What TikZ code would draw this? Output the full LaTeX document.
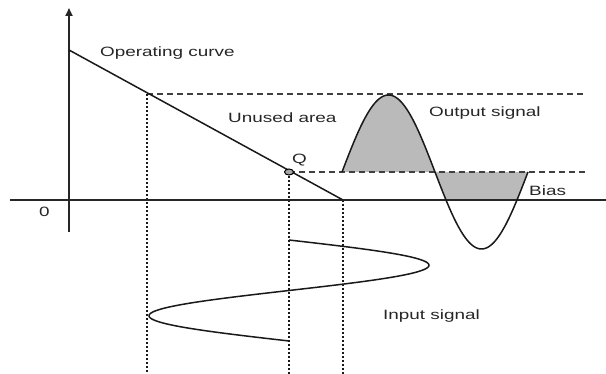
\documentclass[tikz,border=0pt]{standalone}
\usepackage{fontspec}
\setmainfont{Liberation Sans}
\usetikzlibrary{arrows.meta}
\begin{document}
\begin{tikzpicture}[x=1pt,y=-1pt,
  lbl/.style={anchor=west,inner sep=0pt,font=\fontsize{13.5}{15}\selectfont,text=black!85},
  axisline/.style={line width=1.8pt,black!85},
  curveline/.style={line width=1.5pt,black!90},
  dashline/.style={line width=1.3pt,black!75,dash pattern=on 6pt off 4pt},
  dotline/.style={line width=2.4pt,black!90,dash pattern=on 2pt off 2pt},
  shade/.style={fill=black!27}]
\useasboundingbox (0,0) rectangle (606,374);
% key points
\coordinate (ytop) at (69,8);
\coordinate (ybot) at (69,232);
\coordinate (xleft) at (10,200);
\coordinate (xright) at (606,200);
\coordinate (opstart) at (69,50);
\coordinate (opend) at (343,200);
\coordinate (Q) at (289,172);
\coordinate (topdash) at (147,94);
\coordinate (topdashend) at (585,94);
\coordinate (qdashend) at (585,172);
% shaded areas of output signal
\fill[shade] (342,172) -- plot[domain=342:435,samples=60,smooth] (\x,{172-77*sin((\x-342)*1.93548)}) -- cycle;
\begin{scope}
\clip (435,172) rectangle (528,200);
\fill[shade] (435,172) -- plot[domain=435:528,samples=60,smooth] (\x,{172-77*sin((\x-342)*1.93548)}) -- cycle;
\end{scope}
% dashed levels
\draw[dashline] (topdash) -- (topdashend);
\draw[dashline] (Q) -- (qdashend);
% dotted projections
\draw[dotline] (topdash) -- (147,374);
\draw[dotline] (Q) -- (289,374);
\draw[dotline] (opend) -- (343,374);
% axes
\draw[axisline] (xleft) -- (xright);
\draw[axisline,-{Triangle[length=8pt,width=7pt]}] (ybot) -- (ytop);
% operating curve
\draw[curveline] (opstart) -- (opend);
% output signal
\draw[curveline] plot[domain=342:528,samples=120,smooth] (\x,{172-77*sin((\x-342)*1.93548)});
% input signal
\draw[curveline] plot[domain=240:341,samples=120,smooth] ({289+140*sin((\x-240)*3.56436)},\x);
% Q point
\draw[line width=1pt,fill=black!35] (Q) ellipse (4.5 and 3);
% labels
\node[lbl] (lop) at (100,53) {\scalebox{1.4}[1]{Operating curve}};
\node[lbl] (lun) at (228,118) {\scalebox{1.4}[1]{Unused area}};
\node[lbl] (lout) at (429,113) {\scalebox{1.4}[1]{Output signal}};
\node[lbl] (lbias) at (529,191) {\scalebox{1.4}[1]{Bias}};
\node[lbl] (lin) at (383,316) {\scalebox{1.4}[1]{Input signal}};
\node[lbl] (lq) at (292,160) {\scalebox{1.4}[1]{Q}};
\node[lbl] (lo) at (39,212) {\scalebox{1.4}[1]{0}};
\end{tikzpicture}
\end{document}
